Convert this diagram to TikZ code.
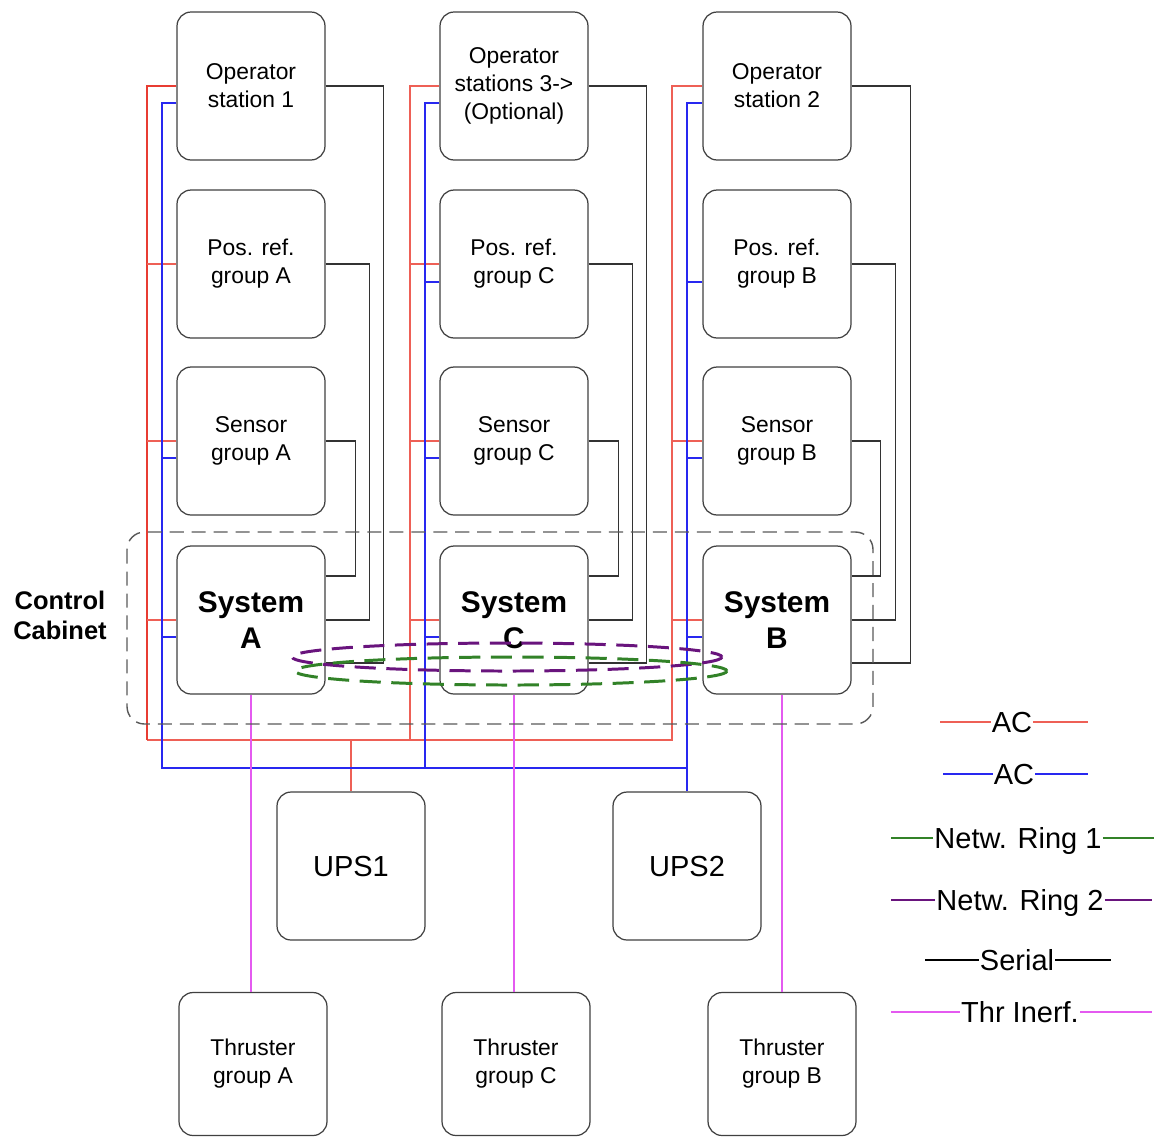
\documentclass[tikz,border=0pt]{standalone}
\usepackage{fontspec}
\setmainfont{Liberation Sans}
\usetikzlibrary{calc}

\definecolor{acred}{RGB}{238,96,86}
\definecolor{acstrong}{RGB}{232,60,50}
\definecolor{acblue}{RGB}{40,40,240}
\definecolor{ringgreen}{RGB}{50,130,40}
\definecolor{ringpurple}{RGB}{105,20,125}
\definecolor{thrpink}{RGB}{228,90,240}

\tikzset{
  unit/.style={draw=black!75, fill=white, line width=0.7pt, rounded corners=8pt,
    minimum width=2.96cm, minimum height=2.96cm, align=center,
    font=\fontsize{13}{15.9}\selectfont},
  sysunit/.style={unit, font=\fontsize{17}{20.4}\selectfont\bfseries},
  upsunit/.style={unit, font=\fontsize{16.5}{20}\selectfont},
  ac/.style={acred, line width=0.8pt},
  dc/.style={acblue, line width=0.8pt},
  serial/.style={black!80, line width=0.7pt},
  thr/.style={thrpink, line width=0.8pt},
  ring1/.style={ringgreen, line width=1.7pt, dash pattern=on 12pt off 6pt},
  ring2/.style={ringpurple, line width=1.7pt, dash pattern=on 12pt off 6pt},
  cabinet/.style={black!65, line width=0.8pt, dash pattern=on 8pt off 4.5pt, rounded corners=10pt},
  legend/.style={inner xsep=0.5pt, inner ysep=1pt, text depth=0pt,
    font=\fontsize{16.5}{19}\selectfont}
}

\begin{document}
\begin{tikzpicture}[x=0.02cm, y=-0.02cm]
  \useasboundingbox (0,0) rectangle (1158,1137);

  % column A
  \node[unit] (opA) at (251,86) {Operator\\station 1};
  \node[unit] (posA) at (251,264) {Pos. ref.\\group A};
  \node[unit] (senA) at (251,441) {Sensor\\group A};
  \node[sysunit] (sysA) at (251,620) {System\\A};
  % column C
  \node[unit] (opC) at (514,86) {Operator\\stations 3->\\(Optional)};
  \node[unit] (posC) at (514,264) {Pos. ref.\\group C};
  \node[unit] (senC) at (514,441) {Sensor\\group C};
  \node[sysunit] (sysC) at (514,620) {System\\C};
  % column B
  \node[unit] (opB) at (777,86) {Operator\\station 2};
  \node[unit] (posB) at (777,264) {Pos. ref.\\group B};
  \node[unit] (senB) at (777,441) {Sensor\\group B};
  \node[sysunit] (sysB) at (777,620) {System\\B};
  % power and thrusters
  \node[upsunit] (upsI) at (351,866) {UPS1};
  \node[upsunit] (upsII) at (687,866) {UPS2};
  \node[unit, minimum height=2.86cm] (thrA) at (253,1064) {Thruster\\group A};
  \node[unit, minimum height=2.86cm] (thrC) at (516,1064) {Thruster\\group C};
  \node[unit, minimum height=2.86cm] (thrB) at (782,1064) {Thruster\\group B};

  % AC, red
  \coordinate (acA) at (147,740);
  \coordinate (acC) at (410,740);
  \coordinate (acB) at (672,740);
  \draw[ac] (acA) -- (acB) |- (opB.west);
  \draw[ac, acstrong] (opA.west) -| (acA);
  \draw[ac] (opC.west) -| (acC);
  \draw[ac] (posA.west) -- (posA.west -| acA);
  \draw[ac] (senA.west) -- (senA.west -| acA);
  \draw[ac] (sysA.west) -- (sysA.west -| acA);
  \draw[ac] (posC.west) -- (posC.west -| acC);
  \draw[ac] (senC.west) -- (senC.west -| acC);
  \draw[ac] (sysC.west) -- (sysC.west -| acC);
  \draw[ac] (senB.west) -- (senB.west -| acB);
  \draw[ac] (sysB.west) -- (sysB.west -| acB);
  \draw[ac] (upsI.north) -- (upsI.north |- acA);

  % AC, blue
  \coordinate (dcA) at (162,768);
  \coordinate (dcC) at (425,768);
  \coordinate (dcB) at (687,768);
  \draw[dc] ($(opA.west)+(0,17)$) -| (dcA) -- (dcB) |- ($(opB.west)+(0,17)$);
  \draw[dc] ($(opC.west)+(0,17)$) -| (dcC);
  \draw[dc] (upsII.north) -- (dcB);
  \draw[dc] ($(senA.west)+(0,17)$) -- ++(-15,0);
  \draw[dc] ($(sysA.west)+(0,17)$) -- ++(-15,0);
  \draw[dc] ($(posC.west)+(0,18)$) -- ++(-15,0);
  \draw[dc] ($(senC.west)+(0,17)$) -- ++(-15,0);
  \draw[dc] ($(sysC.west)+(0,17)$) -- ++(-15,0);
  \draw[dc] ($(posB.west)+(0,18)$) -- ++(-16,0);
  \draw[dc] ($(senB.west)+(0,17)$) -- ++(-16,0);
  \draw[dc] ($(sysB.west)+(0,17)$) -- ++(-16,0);

  % serial links to the systems
  \draw[serial] (opA.east) -- ++(58,0) |- ($(sysA.east)+(0,43)$);
  \draw[serial] (posA.east) -- ++(44,0) |- (sysA.east);
  \draw[serial] (senA.east) -- ++(30,0) |- ($(sysA.east)+(0,-44)$);
  \draw[serial] (opC.east) -- ++(58,0) |- ($(sysC.east)+(0,43)$);
  \draw[serial] (posC.east) -- ++(44,0) |- (sysC.east);
  \draw[serial] (senC.east) -- ++(30,0) |- ($(sysC.east)+(0,-44)$);
  \draw[serial] (opB.east) -- ++(59,0) |- ($(sysB.east)+(0,43)$);
  \draw[serial] (posB.east) -- ++(44,0) |- (sysB.east);
  \draw[serial] (senB.east) -- ++(29,0) |- ($(sysB.east)+(0,-44)$);

  % thruster interface
  \draw[thr] (sysA.south) -- (sysA.south |- thrA.north);
  \draw[thr] (sysC.south) -- (sysC.south |- thrC.north);
  \draw[thr] (thrB.north) -- (thrB.north |- sysB.south);

  % control cabinet
  \draw[cabinet] (127,532) rectangle (873,724);
  \node[font=\fontsize{14.5}{17}\selectfont\bfseries, align=center] (cab) at (60,615) {Control\\Cabinet};

  % network rings
  \draw[ring2] (507,657) ellipse [x radius=215, y radius=14];
  \draw[ring1] (511,671) ellipse [x radius=216, y radius=14];

  % legend
  \node[legend] (lgAcRed) at (1012,722) {AC};
  \node[legend] (lgAcBlue) at (1014,774) {AC};
  \node[legend] (lgRingI) at (1018,838) {Netw. Ring 1};
  \node[legend] (lgRingII) at (1020,900) {Netw. Ring 2};
  \node[legend] (lgSerial) at (1017,960) {Serial};
  \node[legend] (lgThr) at (1020,1012) {Thr Inerf.};
  \coordinate (lgAcRedW) at (940,722);   \coordinate (lgAcRedE) at (1088,722);
  \coordinate (lgAcBlueW) at (943,774);  \coordinate (lgAcBlueE) at (1088,774);
  \coordinate (lgRingIW) at (891,838);   \coordinate (lgRingIE) at (1154,838);
  \coordinate (lgRingIIW) at (891,900);  \coordinate (lgRingIIE) at (1152,900);
  \coordinate (lgSerialW) at (925,960);  \coordinate (lgSerialE) at (1111,960);
  \coordinate (lgThrW) at (891,1012);    \coordinate (lgThrE) at (1152,1012);
  \draw[ac, line width=1.2pt] (lgAcRedW) -- (lgAcRed) -- (lgAcRedE);
  \draw[dc, line width=1.2pt] (lgAcBlueW) -- (lgAcBlue) -- (lgAcBlueE);
  \draw[ringgreen, line width=1.2pt] (lgRingIW) -- (lgRingI) -- (lgRingIE);
  \draw[ringpurple, line width=1.2pt] (lgRingIIW) -- (lgRingII) -- (lgRingIIE);
  \draw[black, line width=1.2pt] (lgSerialW) -- (lgSerial) -- (lgSerialE);
  \draw[thr, line width=1.2pt] (lgThrW) -- (lgThr) -- (lgThrE);
\end{tikzpicture}
\end{document}
